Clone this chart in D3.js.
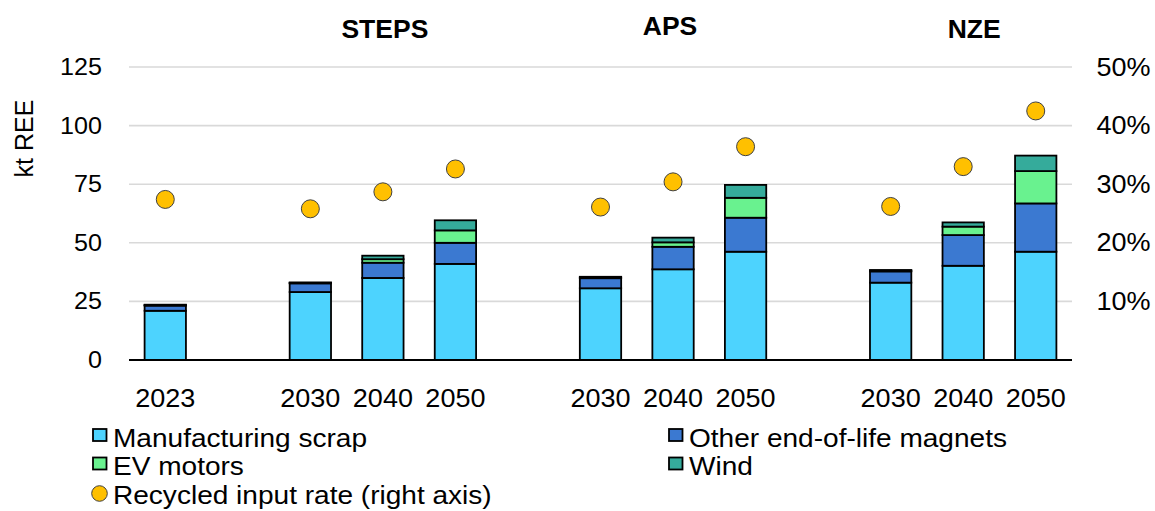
<!DOCTYPE html>
<html>
<head>
<meta charset="utf-8">
<script src="https://cdn.jsdelivr.net/npm/d3@7"></script>
<style>
  html, body { margin: 0; padding: 0; background: #fff; }
  svg { display: block; font-family: Arial, "Liberation Sans", sans-serif; }
</style>
</head>
<body>
<svg id="chart" width="1155" height="511"></svg>
<script>
// ---- data ----
const scenarios = ["STEPS", "APS", "NZE"];
const years = ["2030", "2040", "2050"];
const categories = ["2023",
  "STEPS 2030", "STEPS 2040", "STEPS 2050",
  "APS 2030", "APS 2040", "APS 2050",
  "NZE 2030", "NZE 2040", "NZE 2050"];
const manufacturingScrap = [21.0, 29.0, 35.0, 41.0, 30.6, 38.7, 46.2, 33.0, 40.2, 46.2];
const otherEndOfLife     = [2.2, 3.7, 6.5, 9.0, 4.3, 9.6, 14.5, 4.8, 13.1, 20.6];
const evMotors           = [0.2, 0.2, 1.5, 5.3, 0.3, 1.9, 8.5, 0.3, 3.6, 13.8];
const wind               = [0.2, 0.2, 1.5, 4.3, 0.3, 2.0, 5.5, 0.3, 1.8, 6.6];
const recycledInputRate  = [27.4, 25.8, 28.7, 32.6, 26.1, 30.4, 36.4, 26.2, 33.0, 42.5];
const leftTicks = [0, 25, 50, 75, 100, 125];
const rightTicks = [10, 20, 30, 40, 50];
const seriesNames = ["Manufacturing scrap", "Other end-of-life magnets", "EV motors", "Wind"];
const seriesColors = ["#4dd3fe", "#3b79d1", "#69f28f", "#35ab9b"];
const rateName = "Recycled input rate (right axis)";
const rateColor = "#ffc000";

// slots: 2023, gap, STEPS x3, gap, APS x3, gap, NZE x3
const slots = ["2023", "gap1", "STEPS 2030", "STEPS 2040", "STEPS 2050", "gap2",
  "APS 2030", "APS 2040", "APS 2050", "gap3", "NZE 2030", "NZE 2040", "NZE 2050"];

const svg = d3.select("#chart");
const x0 = 129, x1 = 1072, yTop = 67, yBot = 360;

const x = d3.scaleBand().domain(slots).range([x0, x1]).paddingInner(0.43).paddingOuter(0.215);
const y = d3.scaleLinear().domain([0, 125]).range([yBot, yTop]);
const yR = d3.scaleLinear().domain([0, 50]).range([yBot, yTop]);

// gridlines
svg.append("g").selectAll("line").data(leftTicks.filter(d => d > 0)).join("line")
  .attr("x1", x0).attr("x2", x1)
  .attr("y1", d => y(d)).attr("y2", d => y(d))
  .attr("stroke", "#d9d9d9").attr("stroke-width", 1.6);

// left axis labels
const yAxis = d3.axisLeft(y).tickValues(leftTicks).tickSize(0).tickPadding(0);
const gl = svg.append("g").attr("transform", `translate(${x0 - 27},0)`).call(yAxis);
gl.select(".domain").remove();
gl.selectAll("text").attr("font-size", 23.5).attr("fill", "#000")
  .attr("font-family", "Arial, 'Liberation Sans', sans-serif")
  .attr("transform", "scale(1.07,1)");

// right axis labels
const yAxisR = d3.axisRight(yR).tickValues(rightTicks).tickSize(0).tickPadding(0).tickFormat(d => d + "%");
const gr = svg.append("g").attr("transform", `translate(${x1 + 24.5},0)`).call(yAxisR);
gr.select(".domain").remove();
gr.selectAll("text").attr("font-size", 25.5).attr("fill", "#000")
  .attr("font-family", "Arial, 'Liberation Sans', sans-serif")
  .attr("transform", "scale(1.06,1)");

// y title
svg.append("text").attr("transform", `translate(33,${(y(0) + y(125)) / 2 - 75}) rotate(-90)`)
  .attr("text-anchor", "middle").attr("font-size", 25).text("kt REE");

// stacked bars
const rows = categories.map((c, i) => ({
  cat: c,
  s0: manufacturingScrap[i], s1: otherEndOfLife[i], s2: evMotors[i], s3: wind[i]
}));
const stack = d3.stack().keys(["s0", "s1", "s2", "s3"])(rows);
const gb = svg.append("g");
stack.forEach((layer, li) => {
  gb.append("g").selectAll("rect").data(layer).join("rect")
    .attr("x", d => x(d.data.cat))
    .attr("width", x.bandwidth())
    .attr("y", d => y(d[1]))
    .attr("height", d => y(d[0]) - y(d[1]))
    .attr("fill", seriesColors[li])
    .attr("stroke", "#000").attr("stroke-width", 1.8);
});

// baseline
svg.append("line").attr("x1", x0).attr("x2", x1).attr("y1", yBot).attr("y2", yBot)
  .attr("stroke", "#000").attr("stroke-width", 1.8);

// rate dots
svg.append("g").selectAll("circle").data(categories).join("circle")
  .attr("cx", d => x(d) + x.bandwidth() / 2)
  .attr("cy", (d, i) => yR(recycledInputRate[i]))
  .attr("r", 9)
  .attr("fill", rateColor).attr("stroke", "#404040").attr("stroke-width", 1);

// x labels
svg.append("g").selectAll("text").data(categories).join("text")
  .attr("transform", d => `translate(${x(d) + x.bandwidth() / 2},406.5) scale(1.06,1)`)
  .attr("text-anchor", "middle").attr("font-size", 25.5)
  .text(d => d.split(" ").pop());

// scenario titles
const titleDx = [2, -3, 11];
const titleY = [38, 35, 38];
svg.append("g").selectAll("text").data(scenarios).join("text")
  .attr("x", (d, i) => x(d + " " + years[1]) + x.bandwidth() / 2 + titleDx[i])
  .attr("y", (d, i) => titleY[i])
  .attr("text-anchor", "middle").attr("font-size", 26.5).attr("font-weight", "bold")
  .text(d => d);

// legend
const legendItems = seriesNames.map((n, i) => ({name: n, color: seriesColors[i], type: "rect"}))
  .concat([{name: rateName, color: rateColor, type: "circle"}]);
const legPos = [[92, 446.5], [668, 446.5], [92, 475], [668, 475], [92, 503.5]];
const lg = svg.append("g");
legendItems.forEach((it, i) => {
  const [lx, ly] = legPos[i];
  const g = lg.append("g").attr("transform", `translate(${lx},${ly})`);
  if (it.type === "rect") {
    g.append("rect").attr("x", 1).attr("y", -17.5).attr("width", 13.5).attr("height", 12)
      .attr("fill", it.color).attr("stroke", "#000").attr("stroke-width", 1.8);
  } else {
    g.append("circle").attr("cx", 7.5).attr("cy", -10).attr("r", 7.8)
      .attr("fill", it.color).attr("stroke", "#404040").attr("stroke-width", 1);
  }
  g.append("text").attr("transform", "translate(21,0) scale(1.1,1)")
    .attr("font-size", 25.5).text(it.name);
});
</script>
</body>
</html>
